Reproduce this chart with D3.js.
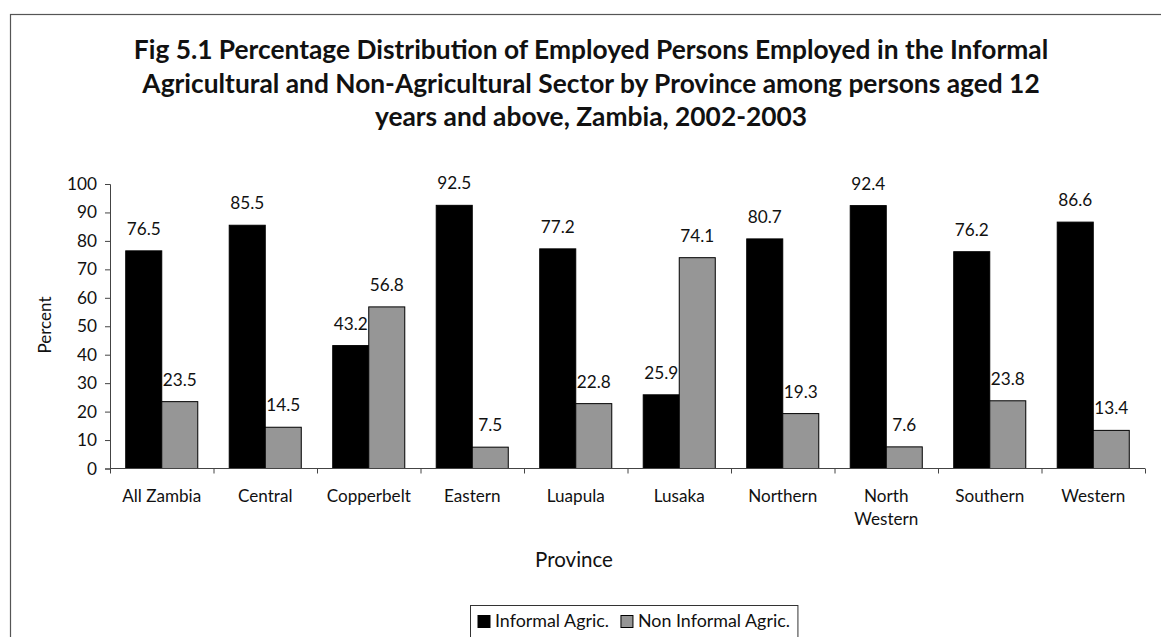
<!DOCTYPE html>
<html>
<head>
<meta charset="utf-8">
<script src="https://cdn.jsdelivr.net/npm/d3@7"></script>
<style>
  html, body { margin: 0; padding: 0; background: #fff; }
  svg { display: block; }
  text { font-family: Lato, "Open Sans", sans-serif; fill: #111; }
</style>
</head>
<body>
<svg id="chart" width="1161" height="637"></svg>
<script>
const provinces = ["All Zambia", "Central", "Copperbelt", "Eastern", "Luapula", "Lusaka", "Northern", "North Western", "Southern", "Western"];
const seriesNames = ["Informal Agric.", "Non Informal Agric."];
const informalAgric = [76.5, 85.5, 43.2, 92.5, 77.2, 25.9, 80.7, 92.4, 76.2, 86.6];
const nonInformalAgric = [23.5, 14.5, 56.8, 7.5, 22.8, 74.1, 19.3, 7.6, 23.8, 13.4];
const yTicks = [0, 10, 20, 30, 40, 50, 60, 70, 80, 90, 100];
const titleLines = [
  "Fig 5.1 Percentage Distribution of Employed Persons Employed in the Informal",
  "Agricultural and Non-Agricultural Sector by Province among persons aged 12",
  "years and above, Zambia, 2002-2003"
];
const colors = ["#000000", "#969696"];

const svg = d3.select("#chart");

function fitSize(str, weight, target) {
  const t = svg.append("text").style("font-size", "100px").style("font-weight", weight).text(str);
  const w = t.node().getComputedTextLength();
  t.remove();
  return 100 * target / w;
}
const titleSize = fitSize(titleLines[0], "bold", 915);
const catSize = fitSize("All Zambia", "normal", 79);
const valSize = fitSize("76.5", "normal", 34);
const tickSize = fitSize("100", "normal", 30);
const provSize = fitSize("Province", "normal", 78);
const legSize = fitSize("Informal Agric.", "normal", 114);
const pctSize = fitSize("Percent", "normal", 57);

svg.append("rect").attr("x", 10.5).attr("y", 14.5).attr("width", 1200).attr("height", 700)
  .attr("fill", "none").attr("stroke", "#555").attr("stroke-width", 1.2);

svg.append("g").selectAll("text").data(titleLines).join("text")
  .attr("x", 591).attr("y", (d, i) => 59 + i * 33.5)
  .attr("text-anchor", "middle")
  .style("font-weight", "bold").style("font-size", titleSize + "px")
  .text(d => d);

const x0 = 110, x1 = 1145, yBase = 468.5, yTop = 184;
const x = d3.scaleBand().domain(provinces).range([x0, x1]).paddingInner(0.304).paddingOuter(0.152);
const xs = d3.scaleBand().domain(seriesNames).range([0, x.bandwidth()]);
const y = d3.scaleLinear().domain([0, 100]).range([yBase, yTop]);

const rows = provinces.map((p, i) => ({ p, vals: [informalAgric[i], nonInformalAgric[i]] }));

const groups = svg.append("g").selectAll("g").data(rows).join("g")
  .attr("transform", d => `translate(${x(d.p)},0)`);
groups.selectAll("rect").data(d => d.vals.map((v, j) => ({ v, s: seriesNames[j], j }))).join("rect")
  .attr("x", d => xs(d.s)).attr("width", xs.bandwidth())
  .attr("y", d => y(d.v)).attr("height", d => y(0) - y(d.v))
  .attr("fill", d => colors[d.j]).attr("stroke", "#000").attr("stroke-width", 1);
groups.selectAll("text").data(d => d.vals.map((v, j) => ({ v, s: seriesNames[j], j }))).join("text")
  .attr("x", d => xs(d.s) + xs.bandwidth() / 2).attr("y", d => y(d.v) - 16)
  .attr("text-anchor", "middle").style("font-size", valSize + "px")
  .text(d => d.v.toFixed(1));

const yAxis = d3.axisLeft(y).tickValues(yTicks).tickSize(5).tickPadding(8);
const gy = svg.append("g").attr("transform", `translate(${x0},0)`).call(yAxis);
gy.select(".domain").attr("stroke", "#444");
gy.selectAll(".tick line").attr("stroke", "#444");
gy.selectAll(".tick text").style("font-size", tickSize + "px").style("font-family", "Lato, 'Open Sans', sans-serif").attr("fill", "#111");

const idx = d3.scaleLinear().domain([0, provinces.length]).range([x0, x1]);
const xAxis = d3.axisBottom(idx).ticks(provinces.length).tickSize(5).tickFormat("");
const gx = svg.append("g").attr("transform", `translate(0,${yBase})`).call(xAxis);
gx.select(".domain").attr("stroke", "#444").attr("d", `M${x0},0H${x1}`);
gx.selectAll(".tick line").attr("stroke", "#444");

const lbl = svg.append("g").selectAll("text").data(provinces).join("text")
  .attr("x", d => x(d) + x.bandwidth() / 2).attr("y", 502)
  .attr("text-anchor", "middle").style("font-size", catSize + "px");
lbl.each(function(d) {
  const t = d3.select(this);
  const parts = d === "North Western" ? ["North", "Western"] : [d];
  parts.forEach((p, i) => t.append("tspan").attr("x", x(d) + x.bandwidth() / 2).attr("dy", i ? 23 : 0).text(p));
});

svg.append("text").attr("x", 574).attr("y", 567).attr("text-anchor", "middle")
  .style("font-size", provSize + "px").text("Province");
svg.append("text").attr("transform", "translate(51,325) rotate(-90)").attr("text-anchor", "middle")
  .style("font-size", pctSize + "px").text("Percent");

const leg = svg.append("g");
const legBox = leg.append("rect").attr("x", 470.5).attr("y", 605.5).attr("height", 40)
  .attr("fill", "#fff").attr("stroke", "#333");
let cx = 478, lastEnd = 0;
seriesNames.forEach((n, i) => {
  leg.append("rect").attr("x", cx).attr("y", 615.5).attr("width", 12).attr("height", 12)
    .attr("fill", colors[i]).attr("stroke", "#000");
  const t = leg.append("text").attr("x", cx + 17).attr("y", 627).style("font-size", legSize + "px").text(n);
  const w = t.node().getComputedTextLength();
  lastEnd = cx + 17 + w;
  cx = lastEnd + 12;
});
legBox.attr("width", lastEnd + 8 - 470.5);
</script>
</body>
</html>
